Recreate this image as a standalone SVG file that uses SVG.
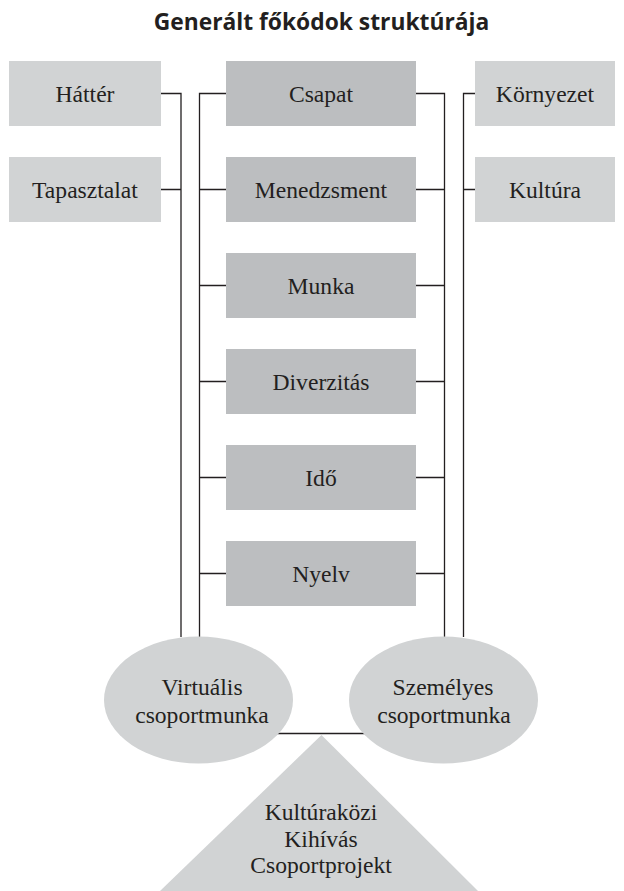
<svg xmlns="http://www.w3.org/2000/svg" width="624" height="891" viewBox="0 0 624 891">
<style>
.lt{fill:#d1d3d4}
.dk{fill:#bcbec0}
.t{font-family:"Liberation Serif",serif;font-size:23.6px;fill:#231f20;text-anchor:middle}
.ln{stroke:#231f20;stroke-width:1.3;fill:none}
.title{font-family:"Open Sans","DejaVu Sans",sans-serif;font-weight:bold;font-size:22.8px;fill:#231f20;text-anchor:middle}
</style>
<rect width="624" height="891" fill="#fff"/>
<text class="title" x="321.5" y="29.5">Generált főkódok struktúrája</text>
<g id="connectors">
<path class="ln" d="M161,93.5H181V637M161,189.5H181"/>
<path class="ln" d="M226,93.5H199.5V637M226,189.5H199.5M226,285.5H199.5M226,381.5H199.5M226,477.5H199.5M226,573.5H199.5"/>
<path class="ln" d="M416,93.5H444.5V637M416,189.5H444.5M416,285.5H444.5M416,381.5H444.5M416,477.5H444.5M416,573.5H444.5"/>
<path class="ln" d="M475,93.5H463.5V637M475,189.5H463.5"/>
<path class="ln" d="M270,733.5H372"/>
</g>
<g id="hatter"><rect class="lt" x="9" y="61" width="152" height="65"/><text class="t" x="85" y="101.7">Háttér</text></g>
<g id="tapasztalat"><rect class="lt" x="9" y="157" width="152" height="65"/><text class="t" x="85" y="197.7">Tapasztalat</text></g>
<g id="csapat"><rect class="dk" x="226" y="61" width="190" height="65"/><text class="t" x="321" y="101.7">Csapat</text></g>
<g id="menedzsment"><rect class="dk" x="226" y="157" width="190" height="65"/><text class="t" x="321" y="197.7">Menedzsment</text></g>
<g id="munka"><rect class="dk" x="226" y="253" width="190" height="65"/><text class="t" x="321" y="293.7">Munka</text></g>
<g id="diverzitas"><rect class="dk" x="226" y="349" width="190" height="65"/><text class="t" x="321" y="389.7">Diverzitás</text></g>
<g id="ido"><rect class="dk" x="226" y="445" width="190" height="65"/><text class="t" x="321" y="485.7">Idő</text></g>
<g id="nyelv"><rect class="dk" x="226" y="541" width="190" height="65"/><text class="t" x="321" y="581.7">Nyelv</text></g>
<g id="kornyezet"><rect class="lt" x="475" y="61" width="140" height="65"/><text class="t" x="545" y="101.7">Környezet</text></g>
<g id="kultura"><rect class="lt" x="475" y="157" width="140" height="65"/><text class="t" x="545" y="197.7">Kultúra</text></g>
<g id="virtualis"><ellipse class="lt" cx="198.5" cy="700" rx="94.5" ry="63.5"/><text class="t" x="202" y="695">Virtuális</text><text class="t" x="202" y="723">csoportmunka</text></g>
<g id="szemelyes"><ellipse class="lt" cx="443.5" cy="700" rx="94.5" ry="63.5"/><text class="t" x="443" y="695">Személyes</text><text class="t" x="444" y="723">csoportmunka</text></g>
<g id="kihivas"><polygon class="lt" points="321.5,735 160,891 478,891"/><text class="t" x="321" y="820">Kultúraközi</text><text class="t" x="321" y="847">Kihívás</text><text class="t" x="321" y="873">Csoportprojekt</text></g>
</svg>
